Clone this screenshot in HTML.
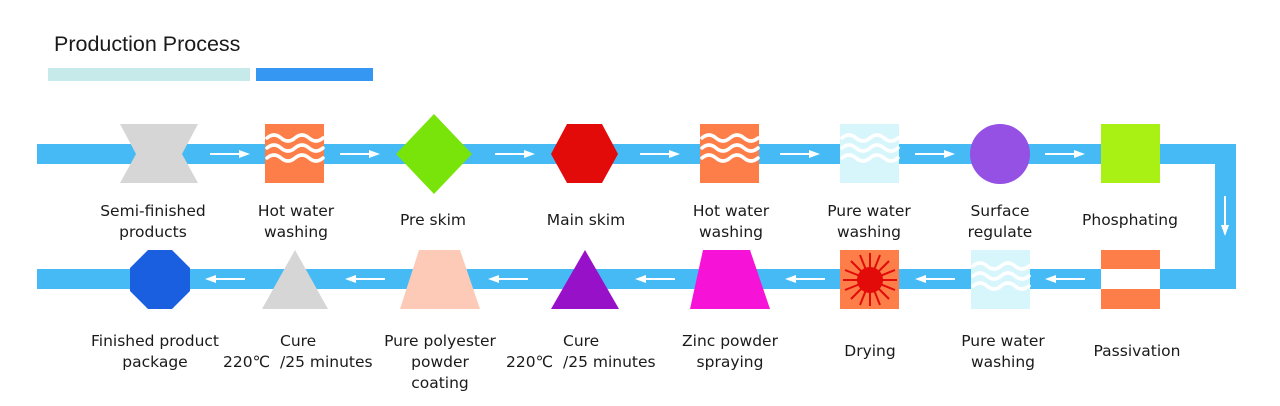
<!DOCTYPE html>
<html><head><meta charset="utf-8"><style>
html,body{margin:0;padding:0;background:#fff;width:1280px;height:406px;overflow:hidden}
text{font-family:"DejaVu Sans","Liberation Sans",sans-serif;font-size:15.5px;fill:#1a1a1a}
</style></head><body>
<svg width="1280" height="406" viewBox="0 0 1280 406" xmlns="http://www.w3.org/2000/svg">
<defs>
<g id="wv" fill="none" stroke-width="3.5" stroke-linecap="round">
<path d="M2 14 q7 -6 14 0 t14 0 t14 0 t14 0"/>
<path d="M2 24 q7 -6 14 0 t14 0 t14 0 t14 0"/>
<path d="M2 34 q7 -6 14 0 t14 0 t14 0 t14 0"/>
</g>
<g id="ar"><line x1="0" y1="0" x2="30" y2="0" stroke="#fff" stroke-width="2"/><path d="M40 0 l-11 -4 v8z" fill="#fff"/></g>
<g id="al"><line x1="6" y1="0" x2="40" y2="0" stroke="#fff" stroke-width="2"/><path d="M0 0 l11 -4 v8z" fill="#fff"/></g>
</defs>
<text x="54" y="51" style="font-family:'Liberation Sans',sans-serif;font-size:21.5px">Production Process</text>
<rect x="48" y="68" width="202" height="13" fill="#c6e9ea"/>
<rect x="256" y="68" width="117" height="13" fill="#3597f2"/>
<g fill="#45baf5">
<rect x="37" y="144" width="1199" height="20"/>
<rect x="1215" y="144" width="21" height="145"/>
<rect x="37" y="269" width="1199" height="20"/>
</g>
<line x1="1225" y1="196" x2="1225" y2="226" stroke="#fff" stroke-width="2"/><path d="M1225 236 l-4 -11 h8z" fill="#fff"/>
<use href="#ar" x="210" y="154"/><use href="#ar" x="340" y="154"/><use href="#ar" x="495" y="154"/><use href="#ar" x="640" y="154"/><use href="#ar" x="780" y="154"/><use href="#ar" x="915" y="154"/><use href="#ar" x="1045" y="154"/>
<use href="#al" x="205" y="279"/><use href="#al" x="345" y="279"/><use href="#al" x="488" y="279"/><use href="#al" x="635" y="279"/><use href="#al" x="785" y="279"/><use href="#al" x="915" y="279"/><use href="#al" x="1045" y="279"/>
<polygon points="120,124 198,124 182,154 198,183 120,183 136,154" fill="#d6d6d6"/>
<rect x="265" y="124" width="59" height="59" fill="#fd7e49"/><use href="#wv" x="265" y="124" stroke="#fff"/>
<polygon points="434,114 472,154 434,194 396,154" fill="#78e40a"/>
<polygon points="567,124 602,124 618,154 602,183 567,183 551,154" fill="#e30a0a"/>
<rect x="700" y="124" width="59" height="59" fill="#fd7e49"/><use href="#wv" x="700" y="124" stroke="#fff"/>
<rect x="840" y="124" width="59" height="59" fill="#d7f6fb"/><use href="#wv" x="840" y="124" stroke="#fff"/>
<circle cx="1000" cy="154" r="30" fill="#9550e4"/>
<rect x="1101" y="124" width="59" height="59" fill="#a9f014"/>
<polygon points="148,250 172,250 190,268 190,291 172,309 148,309 130,291 130,268" fill="#1a5fe0"/>
<polygon points="295,250 328,309 262,309" fill="#d6d6d6"/>
<polygon points="419,250 460,250 480,309 400,309" fill="#fdcab7"/>
<polygon points="585,250 619,309 551,309" fill="#9611c8"/>
<polygon points="703,250 750,250 770,309 690,309" fill="#f712d7"/>
<rect x="840" y="250" width="59" height="59" fill="#fd7e49"/>
<g stroke="#e30a0a" stroke-width="2">
<line x1="870" y1="253" x2="870" y2="306"/><line x1="843" y1="280" x2="897" y2="280"/>
<line x1="851" y1="261" x2="889" y2="299"/><line x1="889" y1="261" x2="851" y2="299"/>
<line x1="860" y1="255" x2="880" y2="305"/><line x1="880" y1="255" x2="860" y2="305"/>
<line x1="845" y1="270" x2="895" y2="290"/><line x1="845" y1="290" x2="895" y2="270"/>
</g>
<circle cx="870" cy="280" r="13" fill="#e30a0a"/>
<rect x="971" y="250" width="59" height="59" fill="#d7f6fb"/><use href="#wv" x="971" y="252" stroke="#fff"/>
<rect x="1101" y="250" width="59" height="19" fill="#fd7e49"/><rect x="1101" y="269" width="59" height="20" fill="#fff"/><rect x="1101" y="289" width="59" height="20" fill="#fd7e49"/>
<g text-anchor="middle">
<text x="153" y="216">Semi-finished</text><text x="153" y="237">products</text>
<text x="296" y="216">Hot water</text><text x="296" y="237">washing</text>
<text x="433" y="225">Pre skim</text>
<text x="586" y="225">Main skim</text>
<text x="731" y="216">Hot water</text><text x="731" y="237">washing</text>
<text x="869" y="216">Pure water</text><text x="869" y="237">washing</text>
<text x="1000" y="216">Surface</text><text x="1000" y="237">regulate</text>
<text x="1130" y="225">Phosphating</text>
<text x="155" y="346">Finished product</text><text x="155" y="367">package</text>
<text x="440" y="346">Pure polyester</text><text x="440" y="367">powder</text><text x="440" y="388">coating</text>
<text x="730" y="346">Zinc powder</text><text x="730" y="367">spraying</text>
<text x="870" y="356">Drying</text>
<text x="1003" y="346">Pure water</text><text x="1003" y="367">washing</text>
<text x="1137" y="356">Passivation</text>
</g>
<text x="280" y="346">Cure</text><text x="223" y="367">220℃</text><text x="280" y="367">/25 minutes</text>
<text x="563" y="346">Cure</text><text x="506" y="367">220℃</text><text x="563" y="367">/25 minutes</text>
</svg>
</body></html>
